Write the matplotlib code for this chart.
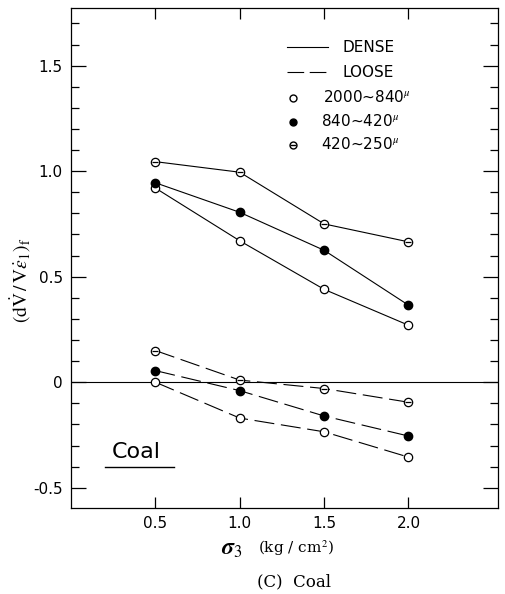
import numpy as np
import matplotlib
matplotlib.use("Agg")
import matplotlib.pyplot as plt
from matplotlib.ticker import MultipleLocator, FixedLocator, NullLocator

plt.rcParams['mathtext.fontset'] = 'stix'

# confining pressure sigma_3 (kg/cm2)
sigma3 = [0.5, 1.0, 1.5, 2.0]

# dense samples
dense_2000_840 = [0.92, 0.67, 0.44, 0.27]
dense_840_420 = [0.945, 0.805, 0.625, 0.365]
dense_420_250 = [1.045, 0.995, 0.75, 0.665]

# loose samples
loose_2000_840 = [0.0, -0.17, -0.235, -0.355]
loose_840_420 = [0.055, -0.04, -0.16, -0.255]
loose_420_250 = [0.15, 0.01, -0.03, -0.095]

yticks = [-0.5, 0, 0.5, 1.0, 1.5]
ytick_labels = ["-0.5", "0", "0.5", "1.0", "1.5"]
xticks = [0.5, 1.0, 1.5, 2.0]
xtick_labels = ["0.5", "1.0", "1.5", "2.0"]

fig = plt.figure(figsize=(5.05, 5.94), dpi=100)
ax = fig.add_axes([0.1406, 0.1448, 0.8454, 0.8417])

lw = 0.8
dash = (0, (18, 6))
ms = 6


def series(y, style, kind):
    ax.plot(sigma3, y, color='black', lw=lw, linestyle=style, zorder=2)
    if kind == 'open':
        ax.plot(sigma3, y, 'o', ms=ms, mfc='white', mec='black', mew=0.9, zorder=3)
    elif kind == 'filled':
        ax.plot(sigma3, y, 'o', ms=ms, mfc='black', mec='black', zorder=3)
    else:
        ax.plot(sigma3, y, 'o', ms=ms, mfc='white', mec='black', mew=0.9, zorder=3)
        ax.plot(sigma3, y, '_', ms=ms - 1, mec='black', mew=0.9, zorder=4)


series(dense_2000_840, '-', 'open')
series(dense_840_420, '-', 'filled')
series(dense_420_250, '-', 'theta')
series(loose_2000_840, dash, 'open')
series(loose_840_420, dash, 'filled')
series(loose_420_250, dash, 'theta')

ax.axhline(0, color='black', lw=lw, zorder=1)

ax.set_xlim(0, 2.53)
ax.set_ylim(-0.596, 1.773)

ax.xaxis.set_major_locator(FixedLocator(xticks))
ax.xaxis.set_minor_locator(NullLocator())
ax.set_xticklabels(xtick_labels)
ax.yaxis.set_major_locator(FixedLocator(yticks))
ax.set_yticklabels(ytick_labels)
ax.yaxis.set_minor_locator(MultipleLocator(0.1))

ax.tick_params(axis='both', which='both', direction='in', top=True, right=True,
               labelsize=11, width=0.9, colors='black')
ax.tick_params(axis='y', which='major', length=11, pad=6)
ax.tick_params(axis='y', which='minor', length=6)
ax.tick_params(axis='x', which='major', length=8, pad=6)
for s in ax.spines.values():
    s.set_linewidth(0.9)

# legend drawn by hand
tx = ax.transAxes
ax.plot([0.506, 0.602], [0.922, 0.922], color='black', lw=lw, transform=tx)
ax.plot([0.506, 0.602], [0.872, 0.872], color='black', lw=lw,
        linestyle=(0, (15, 5)), transform=tx)
ax.text(0.635, 0.922, "DENSE", transform=tx, va='center', fontsize=11)
ax.text(0.635, 0.872, "LOOSE", transform=tx, va='center', fontsize=11)
ax.plot(0.52, 0.82, 'o', ms=5, mfc='white', mec='black', transform=tx)
ax.plot(0.52, 0.772, 'o', ms=5, mfc='black', mec='black', transform=tx)
ax.plot(0.52, 0.726, 'o', ms=5, mfc='white', mec='black', transform=tx)
ax.plot(0.52, 0.726, '_', ms=4, mec='black', transform=tx)
ax.text(0.59, 0.822, r"2000~840$^{\mu}$", transform=tx, va='center', fontsize=11)
ax.text(0.585, 0.774, r"840~420$^{\mu}$", transform=tx, va='center', fontsize=11)
ax.text(0.585, 0.728, r"420~250$^{\mu}$", transform=tx, va='center', fontsize=11)

# sample name, underlined
ax.text(0.096, 0.112, "Coal", transform=tx, va='center', fontsize=16)
ax.plot([0.08, 0.241], [0.082, 0.082], color='black', lw=1.0, transform=tx)

ax.set_ylabel(r"$(\mathrm{d}\dot{\mathrm{V}}\,/\,\mathrm{V}\dot{\varepsilon}_{1})_{\mathrm{f}}$",
              fontsize=14)
ax.yaxis.set_label_coords(-0.088, 0.455)

# x axis label: sigma_3 and units
fig.text(0.458, 0.077, r"$\boldsymbol{\sigma}_{3}$", ha='center', va='center', fontsize=17)
fig.text(0.585, 0.077, r"(kg / cm$^{2}$)", ha='center', va='center', fontsize=11, family='serif')
fig.text(0.582, 0.02, "(C)  Coal", ha='center', va='center', fontsize=12, family='serif')

fig.savefig("out.png", dpi=100, facecolor='white')
